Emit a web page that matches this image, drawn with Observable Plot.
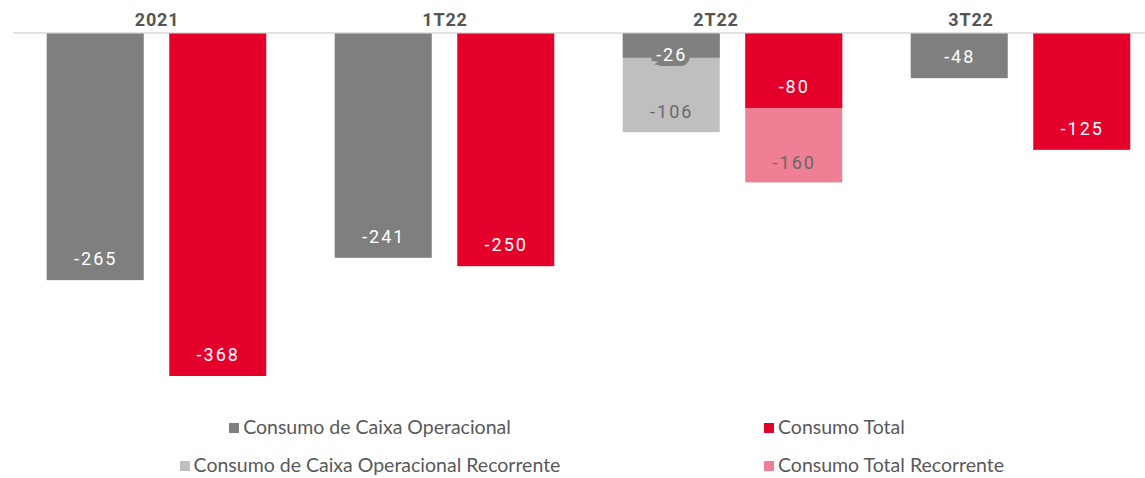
<!DOCTYPE html>
<html><head><meta charset="utf-8">
<script src="https://cdn.jsdelivr.net/npm/d3@7"></script>
<script src="https://cdn.jsdelivr.net/npm/@observablehq/plot@0.6"></script>
<style>
html,body{margin:0;padding:0;background:#fff;}
#wrap{position:relative;width:1145px;height:478px;overflow:hidden;}
#legend{position:absolute;left:0;top:0;width:1145px;height:478px;pointer-events:none;font-family:Lato,"Open Sans",sans-serif;font-size:19.5px;color:#595959;}
.li{position:absolute;white-space:nowrap;line-height:22px;}
.sw{display:inline-block;width:10px;height:10px;margin-right:4px;vertical-align:1px;}
</style></head>
<body><div id="wrap"><div id="chart"></div><div id="legend"></div></div>
<script>
const groups = ["2021", "1T22", "2T22", "3T22"];
const seriesNames = ["Consumo de Caixa Operacional", "Consumo Total", "Consumo de Caixa Operacional Recorrente", "Consumo Total Recorrente"];
const caixa = [-265, -241, -26, -48];
const total = [-368, -250, -80, -125];
const caixaRec = [null, null, -106, null];
const totalRec = [null, null, -160, null];

const colors = ["#7f7f7f", "#e4002b", "#bfbfbf", "#ef7f94"];

const base = [], rec = [];
groups.forEach((g, i) => {
  base.push({group: g, pos: "caixa", series: seriesNames[0], value: caixa[i]});
  base.push({group: g, pos: "total", series: seriesNames[1], value: total[i]});
  if (caixaRec[i] != null) rec.push({group: g, pos: "caixa", series: seriesNames[2], value: caixaRec[i]});
  if (totalRec[i] != null) rec.push({group: g, pos: "total", series: seriesNames[3], value: totalRec[i]});
});

const labelOffset = {"2021": 0, "1T22": 0, "2T22": -17, "3T22": -50};
const fmt = v => "-" + Math.abs(v);
const lblFont = "Roboto, sans-serif";
const lbl = {fontSize: 18, fontFamily: lblFont, className: "vlabel"};

const marks = [
  Plot.frame({facet: "super", anchor: "top", stroke: "#d9d9d9", strokeWidth: 1.5, dy: -1, insetLeft: -28, insetRight: -12}),
  Plot.barY(rec, {fx: "group", x: "pos", y1: 0, y2: "value", fill: "series"}),
  Plot.barY(base, {fx: "group", x: "pos", y1: 0, y2: "value", fill: "series"}),
  Plot.text(rec, {fx: "group", x: "pos", y: "value", text: d => fmt(d.value), dy: -20, fill: "#686868", ...lbl}),
  Plot.text(base.filter(d => Math.abs(d.value) >= 40), {fx: "group", x: "pos", y: "value", text: d => fmt(d.value), dy: -21, fill: "#ffffff", ...lbl}),
  Plot.text(base.filter(d => Math.abs(d.value) < 40), {fx: "group", x: "pos", y: "value", text: d => fmt(d.value), dy: -3, fill: "#ffffff", stroke: "#7f7f7f", strokeWidth: 10, strokeLinejoin: "miter", paintOrder: "stroke", ...lbl}),
  ...groups.map(g => Plot.text([g], {fx: d => d, text: d => d, frameAnchor: "top", lineAnchor: "bottom", dy: -8, dx: labelOffset[g], fill: "#555555", fontSize: 18, fontWeight: "bold", fontFamily: lblFont, className: "glabel"}))
];

const chart = Plot.plot({
  width: 1145, height: 395,
  marginTop: 33.5, marginBottom: 19, marginLeft: 41.3, marginRight: 9.3,
  style: {background: "#fff", overflow: "visible"},
  fx: {domain: groups, paddingInner: 0.2, paddingOuter: 0, axis: null, round: false, label: null},
  x: {domain: ["caixa", "total"], paddingInner: 0.2082, paddingOuter: 0.0445, axis: null, round: false},
  y: {domain: [-368, 0], axis: null},
  color: {domain: seriesNames, range: colors},
  marks
});
d3.select(chart).selectAll(".vlabel text").attr("letter-spacing", "2px");
d3.select(chart).selectAll(".glabel text").attr("letter-spacing", "0.8px");
document.getElementById("chart").appendChild(chart);

const leg = document.getElementById("legend");
const items = [
  {i: 0, top: 416, col: 1},
  {i: 2, top: 454, col: 1},
  {i: 1, top: 416, col: 2},
  {i: 3, top: 454, col: 2}
];
items.forEach(({i, top, col}) => {
  const d = document.createElement("div");
  d.className = "li";
  d.style.top = top + "px";
  if (col === 1) { d.style.left = "0px"; d.style.width = "740px"; d.style.textAlign = "center"; }
  else { d.style.left = "764px"; }
  d.innerHTML = `<span class="sw" style="background:${colors[i]}"></span>${seriesNames[i]}`;
  leg.appendChild(d);
});
</script></body></html>
